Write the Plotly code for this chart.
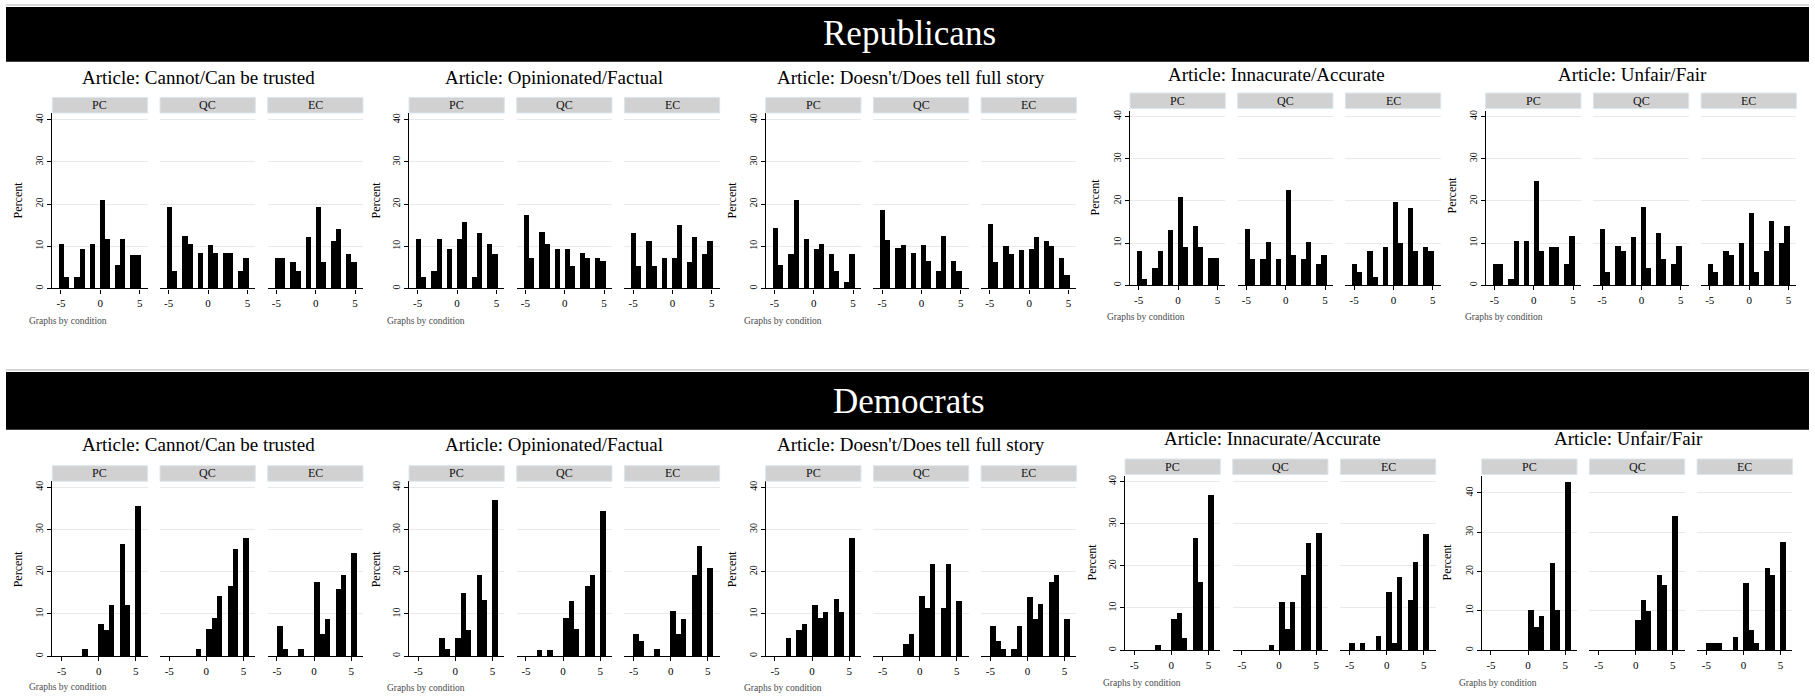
import math
import plotly.graph_objects as go

W, H = 1815, 699
SERIF = "Liberation Serif, Times New Roman, serif"

# Response scale shared by every histogram
values = list(range(-5, 6))
conditions = ["PC", "QC", "EC"]
measure_titles = [
    "Article: Cannot/Can be trusted",
    "Article: Opinionated/Factual",
    "Article: Doesn't/Does tell full story",
    "Article: Innacurate/Accurate",
    "Article: Unfair/Fair",
]
y_ticks = [0, 10, 20, 30, 40]
x_ticks = [-5, 0, 5]
x_tick_labels = ["-5", "0", "5"]

# Percent of respondents at each response value (-5 ... 5), Republicans
rep_trust_pc = [10.5, 2.6, 2.6, 9.2, 10.5, 20.8, 11.7, 5.5, 11.7, 7.9, 7.9]
rep_trust_qc = [19.3, 4.1, 12.3, 10.4, 8.3, 10.2, 8.3, 8.3, 8.3, 4.1, 7.2]
rep_trust_ec = [7.1, 7.1, 6.1, 4.1, 12.0, 19.2, 6.1, 11.1, 14.1, 8.1, 6.1]
rep_fact_pc = [11.7, 2.6, 4.1, 11.7, 9.2, 11.7, 15.6, 2.6, 13.1, 10.5, 8.0]
rep_fact_qc = [17.4, 7.2, 13.4, 10.4, 9.3, 9.3, 5.3, 8.3, 7.2, 7.2, 6.4]
rep_fact_ec = [13.1, 5.3, 11.2, 5.3, 7.1, 7.2, 15.0, 6.1, 12.1, 8.1, 11.2]
rep_story_pc = [14.2, 5.5, 8.1, 20.8, 11.7, 9.2, 10.5, 8.0, 4.1, 1.5, 8.0]
rep_story_qc = [18.5, 11.3, 9.4, 10.3, 8.3, 10.3, 6.4, 4.1, 12.3, 6.4, 4.1]
rep_story_ec = [15.2, 6.1, 10.0, 8.1, 9.1, 9.2, 12.1, 11.2, 10.0, 7.1, 3.1]
rep_acc_pc = [8.1, 1.5, 4.1, 8.1, 13.1, 21.1, 9.2, 14.2, 9.2, 6.6, 6.6]
rep_acc_qc = [13.5, 6.4, 6.4, 10.4, 6.2, 22.6, 7.2, 6.4, 10.4, 5.2, 7.2]
rep_acc_ec = [5.1, 3.1, 8.1, 2.1, 9.2, 19.9, 10.1, 18.3, 8.1, 9.2, 8.1]
rep_fair_pc = [5.2, 5.2, 1.5, 10.6, 10.6, 24.8, 8.1, 9.2, 9.2, 5.2, 11.7]
rep_fair_qc = [13.5, 3.1, 9.4, 8.3, 11.5, 18.6, 4.1, 12.4, 6.4, 5.2, 9.4]
rep_fair_ec = [5.2, 3.2, 8.1, 7.2, 10.1, 17.2, 3.2, 8.1, 15.2, 10.1, 14.1]

# Percent of respondents at each response value (-5 ... 5), Democrats
dem_trust_pc = [0, 0, 0, 1.5, 0, 7.5, 6.1, 12.0, 26.5, 12.0, 35.5]
dem_trust_qc = [0, 0, 0, 0, 1.5, 6.4, 8.9, 14.1, 16.6, 25.4, 27.9]
dem_trust_ec = [7.1, 1.7, 0, 1.7, 0, 17.4, 5.2, 8.7, 15.8, 19.2, 24.3]
dem_fact_pc = [0, 0, 0, 4.3, 1.5, 4.3, 14.9, 6.1, 19.1, 13.3, 36.9]
dem_fact_qc = [0, 0, 1.4, 1.4, 0, 8.9, 13.0, 6.4, 16.6, 19.1, 34.2]
dem_fact_ec = [5.2, 3.5, 0, 1.7, 0, 10.5, 5.2, 8.7, 19.2, 26.0, 20.9]
dem_story_pc = [0, 0, 4.3, 6.1, 7.6, 12.0, 9.0, 10.3, 13.5, 10.3, 27.9]
dem_story_qc = [0, 0, 0, 2.8, 5.2, 14.1, 11.4, 21.7, 11.4, 21.7, 13.0]
dem_story_ec = [7.1, 3.5, 1.7, 1.7, 7.1, 14.0, 8.7, 12.3, 17.5, 19.2, 8.7]
dem_acc_pc = [0, 0, 0, 1.4, 0, 7.5, 8.9, 3.0, 26.8, 16.3, 37.0]
dem_acc_qc = [0, 0, 0, 0, 1.4, 11.5, 5.2, 11.5, 18.0, 25.4, 27.9]
dem_acc_ec = [1.7, 0, 1.7, 0, 3.5, 13.9, 1.8, 17.5, 12.0, 20.9, 27.6]
dem_fair_pc = [0, 0, 0, 0, 0, 10.4, 6.1, 8.9, 22.2, 10.4, 42.9]
dem_fair_qc = [0, 0, 0, 0, 0, 7.8, 12.9, 10.1, 19.2, 16.6, 34.3]
dem_fair_ec = [1.8, 1.8, 1.8, 0, 3.5, 17.3, 5.2, 1.8, 21.0, 19.2, 27.7]

rep_series = [
    [rep_trust_pc, rep_trust_qc, rep_trust_ec],
    [rep_fact_pc, rep_fact_qc, rep_fact_ec],
    [rep_story_pc, rep_story_qc, rep_story_ec],
    [rep_acc_pc, rep_acc_qc, rep_acc_ec],
    [rep_fair_pc, rep_fair_qc, rep_fair_ec],
]
dem_series = [
    [dem_trust_pc, dem_trust_qc, dem_trust_ec],
    [dem_fact_pc, dem_fact_qc, dem_fact_ec],
    [dem_story_pc, dem_story_qc, dem_story_ec],
    [dem_acc_pc, dem_acc_qc, dem_acc_ec],
    [dem_fair_pc, dem_fair_qc, dem_fair_ec],
]


def bin_centers(start, width):
    """Centre of the histogram bin holding each response value."""
    out = []
    for v in values:
        k = math.floor((v - start) / width + 1e-9)
        out.append(start + (k + 0.5) * width)
    return out


def fx(px):
    return px / W


def fy(py):
    return 1 - py / H


# Per-party histogram binning and x-axis range
parties = [
    dict(name="Republicans", series=rep_series, bin_start=-5.18, bin_width=0.645,
         xrange=[-6.1, 6.0], band=(6, 61), band_text_y=33,
         # pc_left, plot_top, plot_bottom, strip_top, y_max, title_x, title_y,
         # percent_x, percent_y, note_x, note_y
         panels=[
             (52.3, 112.7, 288.3, 96.7, 41.5, 198, 77, 18, 200, 27, 321),
             (409.0, 112.7, 288.3, 96.7, 41.5, 554, 77, 376, 200, 385, 321),
             (765.7, 112.7, 288.3, 96.7, 41.5, 911, 77, 732, 200, 742, 321),
             (1130.0, 110.0, 285.0, 92.3, 41.4, 1276, 74, 1095, 197, 1105, 317),
             (1485.7, 110.0, 285.0, 92.3, 41.4, 1632, 74, 1452, 195, 1463, 317),
         ]),
    dict(name="Democrats", series=dem_series, bin_start=-5.0, bin_width=10 / 14,
         xrange=[-6.25, 6.6], band=(372, 430), band_text_y=402,
         panels=[
             (52.3, 481.7, 657.0, 466.0, 41.4, 198, 445, 18, 570, 27, 688),
             (409.0, 481.7, 657.0, 466.0, 41.4, 554, 445, 376, 570, 385, 689),
             (765.7, 481.7, 657.0, 466.0, 41.4, 911, 445, 732, 570, 742, 689),
             (1125.0, 476.0, 651.0, 459.3, 41.4, 1272, 439, 1092, 563, 1101, 684),
             (1481.7, 476.0, 651.0, 459.3, 44.4, 1628, 439, 1447, 563, 1457, 684),
         ]),
]

SUB_STEP = 107.7   # horizontal offset between PC, QC and EC plots
SUB_W = 95.3       # plot width of each condition

fig = go.Figure()
layout = dict(
    width=W, height=H, margin=dict(l=0, r=0, t=0, b=0),
    paper_bgcolor="white", plot_bgcolor="white", showlegend=False,
    font=dict(family=SERIF, color="black"),
)
shapes = []
annotations = []

n = 0
for party in parties:
    b0, b1 = party["band"]
    shapes.append(dict(type="line", xref="paper", yref="paper",
                       x0=fx(6), x1=fx(1809), y0=fy(b0 - 2), y1=fy(b0 - 2),
                       line=dict(color="#b0b0b0", width=1)))
    shapes.append(dict(type="rect", xref="paper", yref="paper",
                       x0=fx(6), x1=fx(1809), y0=fy(b1), y1=fy(b0),
                       fillcolor="black", line=dict(width=0), layer="below"))
    annotations.append(dict(text=party["name"], xref="paper", yref="paper",
                            x=fx(909), y=fy(party["band_text_y"]), showarrow=False,
                            xanchor="center", yanchor="middle",
                            font=dict(family=SERIF, size=35, color="white")))
    centers = bin_centers(party["bin_start"], party["bin_width"])

    for p, geo in enumerate(party["panels"]):
        (pc_left, top, bottom, strip_top, ymax, tx, ty, perx, pery, notex, notey) = geo
        annotations.append(dict(text=measure_titles[p], xref="paper", yref="paper",
                                x=fx(tx), y=fy(ty), showarrow=False,
                                xanchor="center", yanchor="middle",
                                font=dict(family=SERIF, size=19, color="black")))
        annotations.append(dict(text="Percent", xref="paper", yref="paper",
                                x=fx(perx), y=fy(pery), showarrow=False, textangle=-90,
                                xanchor="center", yanchor="middle",
                                font=dict(family=SERIF, size=12, color="black")))
        annotations.append(dict(text="Graphs by condition", xref="paper", yref="paper",
                                x=fx(notex), y=fy(notey), showarrow=False,
                                xanchor="left", yanchor="middle",
                                font=dict(family=SERIF, size=9.5, color="#4a4a4a")))

        for c, cond in enumerate(conditions):
            n += 1
            left = pc_left + c * SUB_STEP
            right = left + SUB_W
            xa = "x" if n == 1 else f"x{n}"
            ya = "y" if n == 1 else f"y{n}"
            heights = party["series"][p][c]
            fig.add_trace(go.Bar(
                x=centers, y=heights, width=party["bin_width"],
                marker=dict(color="black", line=dict(width=0)),
                xaxis=xa, yaxis=ya, hoverinfo="x+y",
            ))
            key = "" if n == 1 else str(n)
            layout["xaxis" + key] = dict(
                domain=[fx(left), fx(right)], range=party["xrange"], anchor=ya,
                tickvals=x_ticks, ticktext=x_tick_labels, ticks="outside",
                ticklen=4, tickwidth=1, tickcolor="black",
                showline=True, linecolor="black", linewidth=1.4,
                showgrid=False, zeroline=False, fixedrange=True,
                tickfont=dict(family=SERIF, size=11, color="black"),
            )
            ycfg = dict(
                domain=[fy(bottom), fy(top)], range=[0, ymax], anchor=xa,
                tickvals=y_ticks, showgrid=True, gridcolor="#e9e9e9", gridwidth=1,
                zeroline=False, fixedrange=True,
            )
            if c == 0:
                ycfg.update(showline=True, linecolor="black", linewidth=1.4,
                            ticks="outside", ticklen=4, tickwidth=1, tickcolor="black",
                            tickangle=-90, showticklabels=True,
                            tickfont=dict(family=SERIF, size=10, color="black"))
            else:
                ycfg.update(showline=False, ticks="", showticklabels=False)
            layout["yaxis" + key] = ycfg

            # strip header above each condition
            shapes.append(dict(type="rect", xref="paper", yref="paper",
                               x0=fx(left), x1=fx(right),
                               y0=fy(strip_top + 15.6), y1=fy(strip_top),
                               fillcolor="#d1d1d1", line=dict(color="#dbe6ee", width=1)))
            annotations.append(dict(text=cond, xref="paper", yref="paper",
                                    x=fx((left + right) / 2), y=fy(strip_top + 7.8),
                                    showarrow=False, xanchor="center", yanchor="middle",
                                    font=dict(family=SERIF, size=12, color="#111111")))

layout["shapes"] = shapes
layout["annotations"] = annotations
layout["bargap"] = 0
fig.update_layout(**layout)
fig.write_html("out.html")
